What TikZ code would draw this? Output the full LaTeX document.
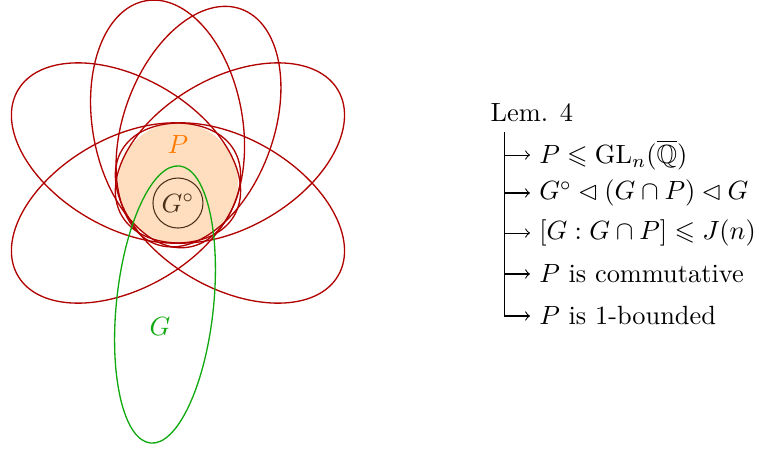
\documentclass[tikz,border=0pt]{standalone}
\usepackage{amsmath}
\usepackage{amssymb}
\usepackage{xcolor}
\usepackage{tikz}
\usetikzlibrary{arrows.meta, positioning}
\definecolor{crojo}{HTML}{B00000}
\definecolor{cverde}{HTML}{10AA10}
\definecolor{cnaranja}{HTML}{FF7A00}
\definecolor{cmarron}{HTML}{4A3018}
\tikzset{
  petalo/.style={draw=crojo, line width=0.5pt},
  grupo/.style={draw=cverde, line width=0.5pt},
  rama/.style={-to, line width=0.4pt},
  hoja/.style={anchor=west},
}

\begin{document}
\begin{tikzpicture}
    \useasboundingbox (-2.373,-3.573) rectangle (7.747,2.44);
    \fill[cnaranja!25] (0,0) circle (0.8);
    \node[circle, draw=cmarron, text=cmarron, minimum size=0.667cm, inner sep=0pt] (gcero) at (0,-0.267) {$G^\circ$};
    \foreach \ang in {30,70,100,150,210,330}
        \draw[petalo, rotate=\ang] (0.8,0) ellipse (1.667 and 1);
    \draw[grupo, rotate around={84:(-0.173,-1.62)}] (-0.173,-1.62) ellipse (1.857 and 0.647);
    \node[text=cnaranja] (P) at (0,0.507) {$P$};
    \node[text=cverde] (G) at (-0.24,-1.907) {$G$};

    \node[hoja] (lem) at (4.045,0.933) {Lem. 4};
    \coordinate (tronco) at (4.36,0.68);
    \node[hoja] (r1) at (4.693,0.373) {$P \leqslant \mathrm{GL}_n(\overline{\mathbb{Q}})$};
    \node[hoja] (r2) at (4.693,-0.133) {$G^\circ \lhd (G \cap P) \lhd G$};
    \node[hoja] (r3) at (4.693,-0.667) {$[G : G \cap P] \leqslant J(n)$};
    \node[hoja] (r4) at (4.693,-1.213) {$P$ is commutative};
    \node[hoja] (r5) at (4.693,-1.773) {$P$ is 1-bounded};

    \draw[rama] (tronco |- r1.west) -- (r1.west);
    \draw[rama] (tronco |- r2.west) -- (r2.west);
    \draw[rama] (tronco |- r3.west) -- (r3.west);
    \draw[rama] (tronco |- r4.west) -- (r4.west);
    \draw[rama] (tronco) |- (r5.west);
\end{tikzpicture}
\end{document}
